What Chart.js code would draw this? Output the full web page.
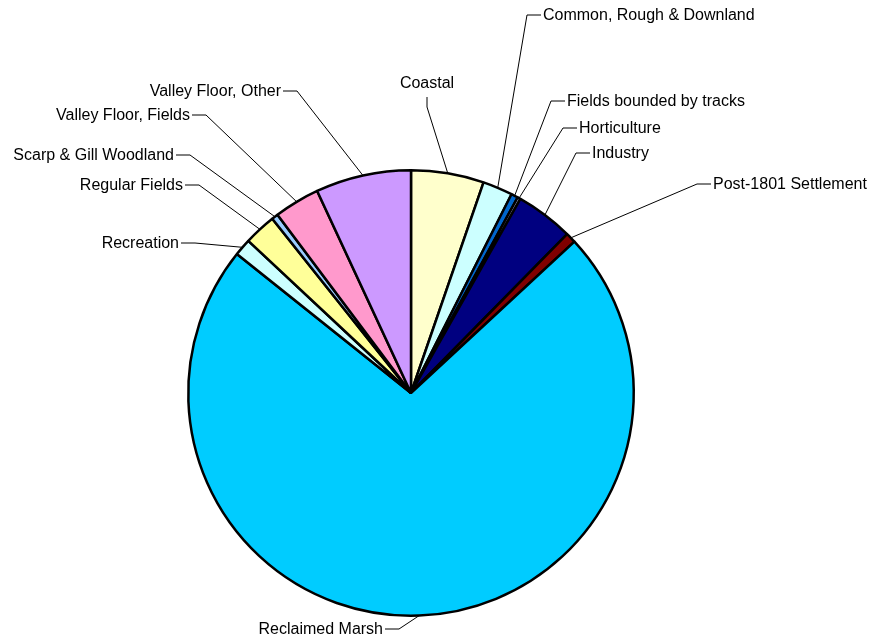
<!DOCTYPE html>
<html><head><meta charset="utf-8">
<script src="https://cdn.jsdelivr.net/npm/chart.js@4/dist/chart.umd.min.js"></script>
<style>html,body{margin:0;padding:0;background:#fff;overflow:hidden}canvas{display:block}</style>
</head><body>
<canvas id="c" width="871" height="639"></canvas>
<script>
// ---- data ----
const categories = [
  "Coastal", "Common, Rough & Downland", "Fields bounded by tracks", "Horticulture",
  "Industry", "Post-1801 Settlement", "Reclaimed Marsh", "Recreation",
  "Regular Fields", "Scarp & Gill Woodland", "Valley Floor, Fields", "Valley Floor, Other"
];
const shares = [5.28, 2.17, 0.50, 0.22, 4.19, 0.75, 72.61, 1.25, 2.33, 0.47, 3.31, 6.92];
const sliceColors = [
  "#FFFFCC", "#CCFFFF", "#0066CC", "#CCCCFF", "#000080", "#800000",
  "#00CCFF", "#CCFFFF", "#FFFF99", "#99CCFF", "#FF99CC", "#CC99FF"
];
// ---- label layout (knee point of the leader line; side of text) ----
const labelLayout = [
  {kx: 427, ky: 107, side: "top"},
  {kx: 527, ky: 15,  side: "right"},
  {kx: 551, ky: 101, side: "right"},
  {kx: 563, ky: 128, side: "right"},
  {kx: 576, ky: 153, side: "right"},
  {kx: 697, ky: 184, side: "right"},
  {kx: 399, ky: 629, side: "left"},
  {kx: 195, ky: 243, side: "left"},
  {kx: 199, ky: 185, side: "left"},
  {kx: 190, ky: 155, side: "left"},
  {kx: 206, ky: 115, side: "left"},
  {kx: 297, ky: 91,  side: "left"}
];

const leaderPlugin = {
  id: "leaders",
  afterDatasetsDraw(chart) {
    const ctx = chart.ctx;
    const meta = chart.getDatasetMeta(0);
    ctx.save();
    ctx.strokeStyle = "#000";
    ctx.lineWidth = 1;
    ctx.fillStyle = "#000";
    ctx.font = "16px 'Liberation Sans', Arial, sans-serif";
    ctx.textBaseline = "middle";
    meta.data.forEach((arc, i) => {
      const p = arc.getProps(["x", "y", "startAngle", "endAngle", "outerRadius"], true);
      const mid = (p.startAngle + p.endAngle) / 2;
      const ax = p.x + Math.cos(mid) * p.outerRadius;
      const ay = p.y + Math.sin(mid) * p.outerRadius;
      const L = labelLayout[i];
      ctx.beginPath();
      ctx.moveTo(ax, ay);
      ctx.lineTo(L.kx, L.ky);
      if (L.side === "top") {
        ctx.lineTo(L.kx, L.ky - 10);
        ctx.stroke();
        ctx.textAlign = "center";
        ctx.fillText(categories[i], L.kx, L.ky - 23);
      } else if (L.side === "right") {
        ctx.lineTo(L.kx + 14, L.ky);
        ctx.stroke();
        ctx.textAlign = "left";
        ctx.fillText(categories[i], L.kx + 16, L.ky + 1);
      } else {
        ctx.lineTo(L.kx - 14, L.ky);
        ctx.stroke();
        ctx.textAlign = "right";
        ctx.fillText(categories[i], L.kx - 16, L.ky + 1);
      }
    });
    ctx.restore();
  }
};

new Chart(document.getElementById("c"), {
  type: "pie",
  data: {
    labels: categories,
    datasets: [{
      data: shares,
      backgroundColor: sliceColors,
      borderColor: "#000",
      borderWidth: 2.5,
      hoverBorderWidth: 2.5,
      hoverOffset: 0,
      offset: 0
    }]
  },
  options: {
    responsive: false,
    devicePixelRatio: 1,
    animation: false,
    events: [],
    layout: {padding: {left: 187, top: 169, right: 236, bottom: 22}},
    plugins: {legend: {display: false}, tooltip: {enabled: false}}
  },
  plugins: [leaderPlugin]
});
</script>
</body></html>
